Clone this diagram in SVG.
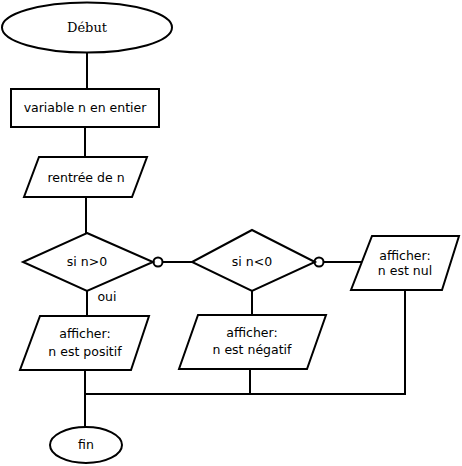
<svg xmlns="http://www.w3.org/2000/svg" width="462" height="466" viewBox="0 0 462 466">
<style>
.s{fill:#fff;stroke:#000;stroke-width:2}
.l{fill:none;stroke:#000;stroke-width:2}
.t{font-family:"DejaVu Sans",sans-serif;font-size:12.5px;fill:#000;text-anchor:middle}
.tf{font-family:"DejaVu Serif",serif;font-size:13px;fill:#000;text-anchor:middle}
</style>
<rect width="462" height="466" fill="#fff"/>
<g id="connectors">
<path class="l" d="M87 53V89M85 127V157M86 197V233M87 291V316M162 262H192M252 291V315M323 262H362M405 290V394H85M250 367V394M85 370V427"/>
<circle class="s" cx="158" cy="262" r="4.5"/>
<circle class="s" cx="319" cy="262" r="4.5"/>
<rect x="249" y="366" width="4" height="3" fill="#000"/>
<text class="t" x="107" y="301">oui</text>
</g>
<g id="debut">
<ellipse class="s" cx="87" cy="27.5" rx="85" ry="25"/>
<text class="tf" x="87" y="32">Début</text>
</g>
<g id="variable">
<rect class="s" x="11" y="89" width="148" height="38"/>
<text class="t" x="85" y="112">variable n en entier</text>
</g>
<g id="rentree">
<polygon class="s" points="39,157 147,157 132,197 24,197"/>
<text class="t" x="86" y="182">rentrée de n</text>
</g>
<g id="si_pos">
<polygon class="s" points="87,233 153,262 87,291 23,262"/>
<text class="t" x="87" y="266">si n&gt;0</text>
</g>
<g id="si_neg">
<polygon class="s" points="252,230 315,262 252,291 192,262"/>
<text class="t" x="252" y="266">si n&lt;0</text>
</g>
<g id="nul">
<polygon class="s" points="372,236 459,236 442,290 351,290"/>
<text class="t" x="405" y="260">afficher:</text>
<text class="t" x="405" y="275">n est nul</text>
</g>
<g id="positif">
<polygon class="s" points="40,316 149,316 131,370 20,370"/>
<text class="t" x="85" y="338">afficher:</text>
<text class="t" x="85" y="356">n est positif</text>
</g>
<g id="negatif">
<polygon class="s" points="198,315 326,315 307,369 179,369"/>
<text class="t" x="252" y="337">afficher:</text>
<text class="t" x="252" y="354">n est négatif</text>
</g>
<g id="fin">
<ellipse class="s" cx="86" cy="445" rx="36" ry="18"/>
<text class="t" x="86" y="449">fin</text>
</g>
</svg>
